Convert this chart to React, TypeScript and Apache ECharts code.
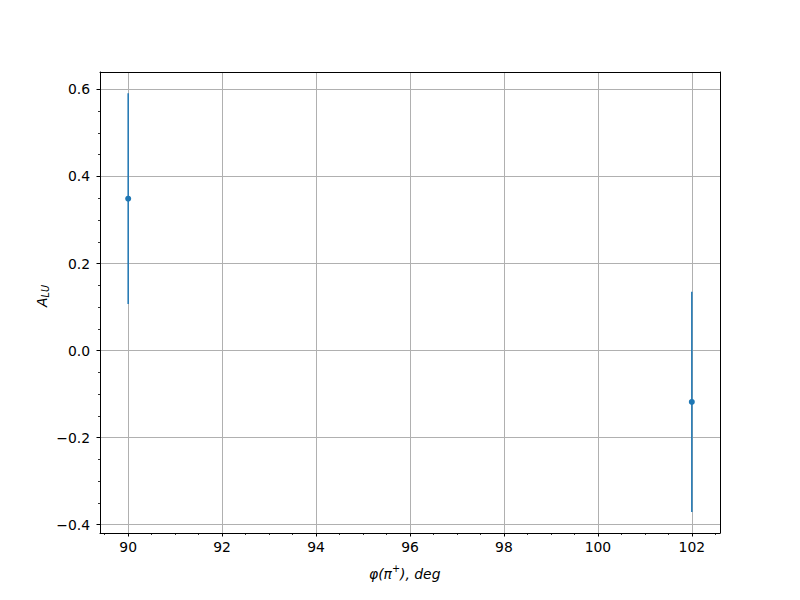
import React, { useEffect, useRef } from "react";
import * as echarts from "echarts";

const phiValues = [90, 102];
const aluValues = [0.349, -0.118];
const aluErrors = [0.242, 0.253];

const xTickLabels = [90, 92, 94, 96, 98, 100, 102];
const yTickLabels = [-0.4, -0.2, 0.0, 0.2, 0.4, 0.6];
const xMinorTicks = [89.5, 90.5, 91, 91.5, 92.5, 93, 93.5, 94.5, 95, 95.5, 96.5, 97, 97.5, 98.5, 99, 99.5, 100.5, 101, 101.5, 102.5];
const yMinorTicks = [-0.35, -0.3, -0.25, -0.15, -0.1, -0.05, 0.05, 0.1, 0.15, 0.25, 0.3, 0.35, 0.45, 0.5, 0.55];

const X_MIN = 89.4;
const X_MAX = 102.6;
const Y_MIN = -0.419;
const Y_MAX = 0.64;

const BLUE = "#1f77b4";
const FONT = "DejaVu Sans";

export default function App() {
  const ref = useRef<HTMLDivElement>(null);
  useEffect(() => {
    if (!ref.current) return;
    const chart = echarts.init(ref.current, null, { renderer: "svg" });
    const grid = { left: 100, top: 72, width: 620, height: 461 };
    const fmt = (v: number) => v.toFixed(1).replace("-", "\u2212");
    const option: any = {
      animation: false,
      backgroundColor: "#ffffff",
      grid: [grid],
      xAxis: [
        {
          type: "value",
          min: X_MIN,
          max: X_MAX,
          splitNumber: 7,
          axisLine: { show: true, onZero: false, lineStyle: { color: "#000", width: 1 } },
          axisTick: { show: true, customValues: xTickLabels, length: 3.5, inside: false, lineStyle: { color: "#000", width: 1 } },
          axisLabel: { customValues: xTickLabels, margin: 7, color: "#000", fontFamily: FONT, fontSize: 13.9, formatter: (v: number) => String(v) },
          splitLine: { show: true, lineStyle: { color: "#b0b0b0", width: 1 } },
          minorTick: { show: false },
        },
        {
          type: "value",
          min: X_MIN,
          max: X_MAX,
          position: "bottom",
          splitNumber: 7,
          axisLine: { show: false, onZero: false },
          axisTick: { show: true, customValues: xMinorTicks, length: 2, lineStyle: { color: "#000", width: 0.8 } },
          axisLabel: { show: false },
          splitLine: { show: false },
        },
        {
          type: "value",
          min: X_MIN,
          max: X_MAX,
          position: "top",
          axisLine: { show: true, onZero: false, lineStyle: { color: "#000", width: 1 } },
          axisTick: { show: false },
          axisLabel: { show: false },
          splitLine: { show: false },
        },
      ],
      yAxis: [
        {
          type: "value",
          min: Y_MIN,
          max: Y_MAX,
          splitNumber: 5,
          axisLine: { show: true, onZero: false, lineStyle: { color: "#000", width: 1 } },
          axisTick: { show: true, customValues: yTickLabels, length: 3.5, lineStyle: { color: "#000", width: 1 } },
          axisLabel: { customValues: yTickLabels, margin: 10, color: "#000", fontFamily: FONT, fontSize: 13.9, formatter: fmt },
          splitLine: { show: true, lineStyle: { color: "#b0b0b0", width: 1 } },
        },
        {
          type: "value",
          min: Y_MIN,
          max: Y_MAX,
          position: "left",
          axisLine: { show: false, onZero: false },
          axisTick: { show: true, customValues: yMinorTicks, length: 2, lineStyle: { color: "#000", width: 0.8 } },
          axisLabel: { show: false },
          splitLine: { show: false },
        },
        {
          type: "value",
          min: Y_MIN,
          max: Y_MAX,
          position: "right",
          axisLine: { show: true, onZero: false, lineStyle: { color: "#000", width: 1 } },
          axisTick: { show: false },
          axisLabel: { show: false },
          splitLine: { show: false },
        },
      ],
      series: [
        {
          type: "custom",
          xAxisIndex: 0,
          yAxisIndex: 0,
          data: phiValues.map((x, i) => [x, aluValues[i] - aluErrors[i], aluValues[i] + aluErrors[i]]),
          renderItem: (params: any, api: any) => {
            const lo = api.coord([api.value(0), api.value(1)]);
            const hi = api.coord([api.value(0), api.value(2)]);
            return {
              type: "line",
              shape: { x1: lo[0], y1: lo[1], x2: hi[0], y2: hi[1] },
              style: { stroke: BLUE, lineWidth: 1.5 },
            };
          },
          z: 3,
        },
        {
          type: "scatter",
          xAxisIndex: 0,
          yAxisIndex: 0,
          data: phiValues.map((x, i) => [x, aluValues[i]]),
          symbol: "circle",
          symbolSize: 6,
          itemStyle: { color: BLUE, opacity: 1 },
          z: 4,
        },
      ],
      graphic: [
        {
          type: "text",
          left: 369,
          top: 563,
          style: {
            text: "{i|φ(π}{s|+}{i|), deg}",
            rich: {
              i: { fontFamily: FONT, fontSize: 13.9, fontStyle: "italic", fill: "#000" },
              s: { fontFamily: FONT, fontSize: 9.7, fontStyle: "italic", fill: "#000", verticalAlign: "top", lineHeight: 22 },
            },
          },
        },
        {
          type: "text",
          x: 42,
          y: 296,
          rotation: Math.PI / 2,
          style: {
            text: "{i|A}{s|LU}",
            align: "center",
            verticalAlign: "middle",
            rich: {
              i: { fontFamily: FONT, fontSize: 13.9, fontStyle: "italic", fill: "#000" },
              s: { fontFamily: FONT, fontSize: 9.7, fontStyle: "italic", fill: "#000", verticalAlign: "bottom", padding: [6, 0, 0, 0] },
            },
          },
        },
      ],
    };
    chart.setOption(option);
    return () => chart.dispose();
  }, []);
  return <div ref={ref} style={{ width: 800, height: 600, margin: -8 }} />;
}
